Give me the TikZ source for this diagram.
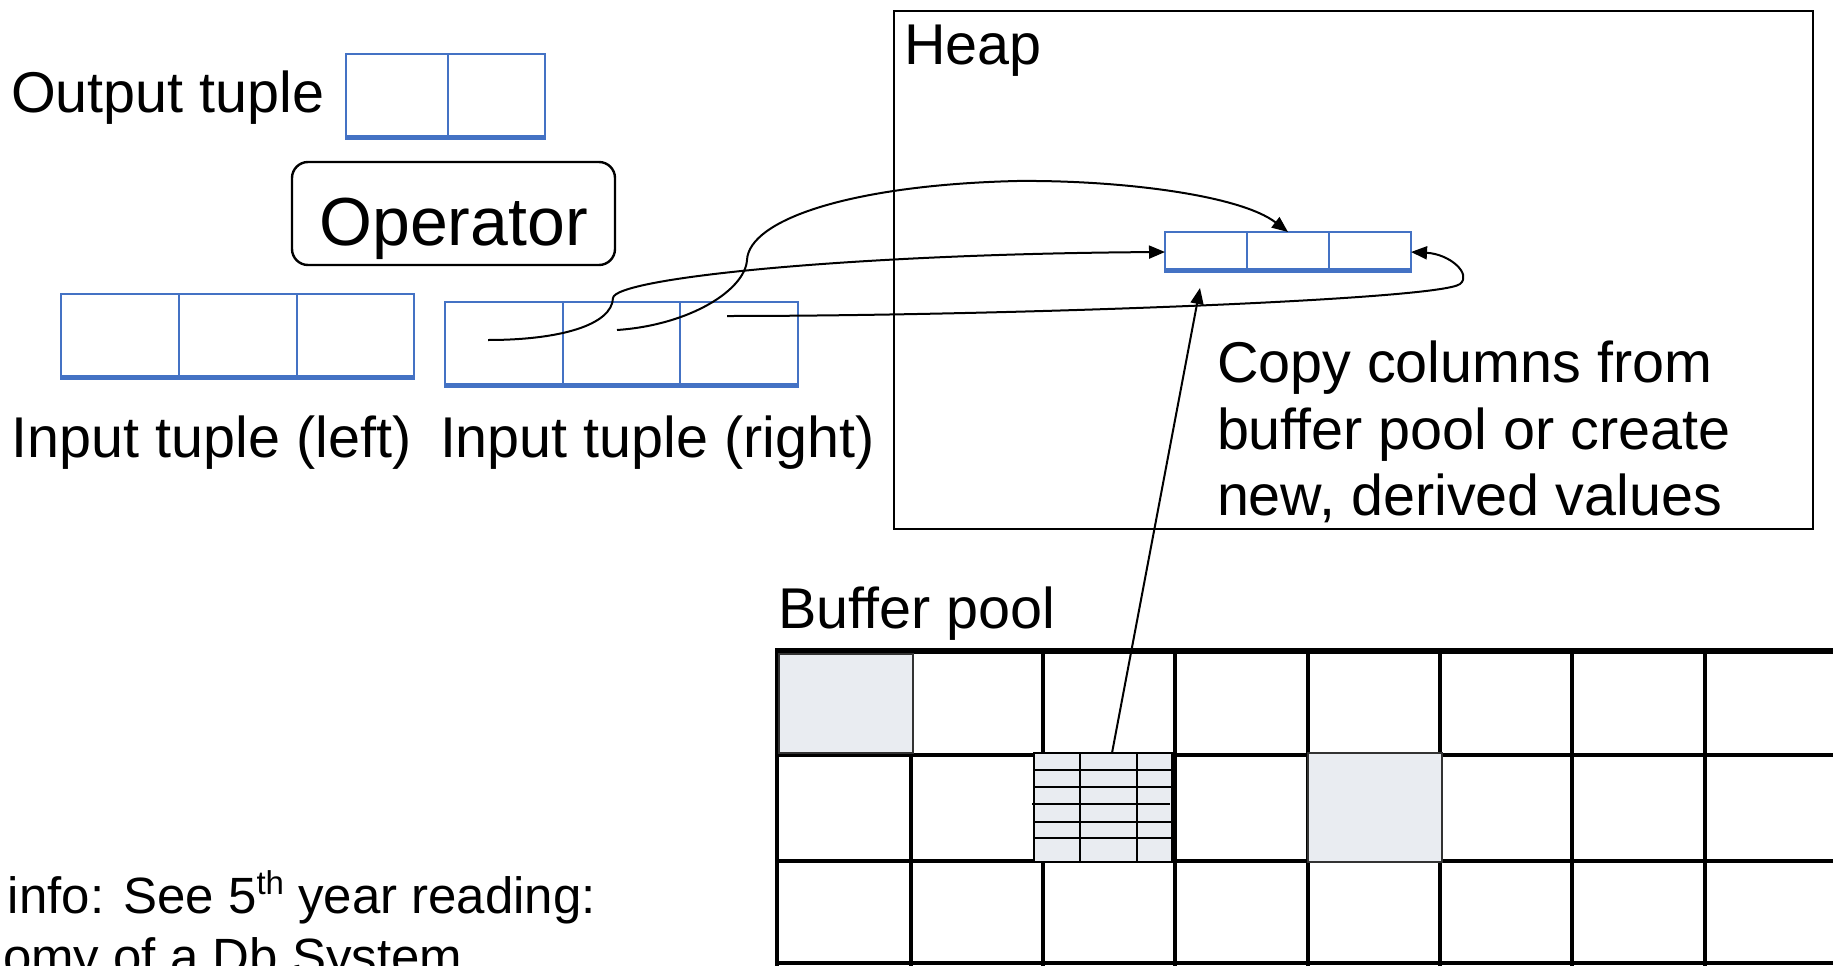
\documentclass[tikz,border=0pt]{standalone}
\usepackage{fontspec}
\setmainfont{Liberation Sans}
\usetikzlibrary{arrows.meta}
\definecolor{tupleblue}{RGB}{68,114,196}
\definecolor{pageshade}{RGB}{233,236,241}

\begin{document}
\begin{tikzpicture}[x=1pt,y=-1pt,
  lbl/.style={anchor=base west, inner sep=0pt, outer sep=0pt,
              font=\fontsize{57.5}{69}\selectfont},
  small/.style={anchor=base west, inner sep=0pt, outer sep=0pt,
              font=\fontsize{51}{61}\selectfont},
  cell/.style={draw=tupleblue, line width=2.5pt, inner sep=0pt, outer sep=0pt},
  tuplebar/.style={draw=tupleblue, line width=5.5pt},
  opbox/.style={draw, line width=2.4pt, rounded corners=16pt, inner sep=0pt,
                minimum width=323pt, minimum height=103pt,
                font=\fontsize{68}{80}\selectfont, text height=63pt, text depth=0pt},
  link/.style={draw, line width=2pt, -{Triangle[length=16pt,width=13pt]}},
  gridthin/.style={draw, line width=3.2pt},
  shadecell/.style={fill=pageshade, draw=black!80, line width=1.4pt},
]
\useasboundingbox (0,0) rectangle (1833,966);
\fill[white] (0,0) rectangle (1833,966);

% ---------- output tuple ----------
\node[lbl] (outlbl) at (11,112) {Output tuple};
\node[cell, minimum width=102pt, minimum height=85pt] (ot1) at (397,96.5) {};
\node[cell, minimum width=97pt,  minimum height=85pt] (ot2) at (496.5,96.5) {};
\draw[tuplebar] ([yshift=1.5pt]ot1.south west) -- ([yshift=1.5pt]ot2.south east);

% ---------- operator ----------
\node[opbox] (op) at (453.5,213.5) {Operator};

% ---------- input tuple (left) ----------
\node[cell, minimum width=118pt, minimum height=85pt] (lt1) at (120,336.5) {};
\node[cell, minimum width=118pt, minimum height=85pt] (lt2) at (238,336.5) {};
\node[cell, minimum width=117pt, minimum height=85pt] (lt3) at (355.5,336.5) {};
\draw[tuplebar] ([yshift=1.5pt]lt1.south west) -- ([yshift=1.5pt]lt3.south east);
\node[lbl] (ltlbl) at (12,457) {Input tuple (left)};

% ---------- input tuple (right) ----------
\node[cell, minimum width=118pt, minimum height=85pt] (rt1) at (504,344.5) {};
\node[cell, minimum width=117pt, minimum height=85pt] (rt2) at (621.5,344.5) {};
\node[cell, minimum width=118pt, minimum height=85pt] (rt3) at (739,344.5) {};
\draw[tuplebar] ([yshift=1.5pt]rt1.south west) -- ([yshift=1.5pt]rt3.south east);
\node[lbl] (rtlbl) at (440,457) {Input tuple (right)};

% ---------- heap ----------
\node[draw, line width=2pt, inner sep=0pt, outer sep=0pt,
      minimum width=919pt, minimum height=518pt] (heap) at (1353.5,270) {};
\node[lbl] (heaplbl) at (904,65) {Heap};
\node[cell, minimum width=82pt, minimum height=40pt] (ht1) at (1206,252) {};
\node[cell, minimum width=82pt, minimum height=40pt] (ht2) at (1288,252) {};
\node[cell, minimum width=82pt, minimum height=40pt] (ht3) at (1370,252) {};
\draw[tuplebar] ([yshift=1.5pt]ht1.south west) -- ([yshift=1.5pt]ht3.south east);
\node[lbl] (copy1) at (1217,382) {Copy columns from};
\node[lbl] (copy2) at (1217,449) {buffer pool or create};
\node[lbl] (copy3) at (1217,515) {new, derived values};

% ---------- buffer pool ----------
\node[lbl] (bplbl) at (778,628) {Buffer pool};
\foreach \y in {755,861,963} \draw[gridthin] (777,\y) -- (1845,\y);
\foreach \x in {911,1043,1175,1308,1440,1572,1705} \draw[gridthin] (\x,651) -- (\x,966);
\draw[line width=4.8pt] (777,649) -- (777,970);
\draw[line width=6.5pt] (775,651) -- (1845,651);
\draw[shadecell] (779,654) rectangle (913,753);
\draw[shadecell] (1308,753) rectangle (1442,862);

% page with its slots
\node[draw, fill=pageshade, line width=2.4pt, inner sep=0pt, outer sep=0pt,
      minimum width=138pt, minimum height=109pt] (page) at (1103,807.5) {};
\foreach \x in {1080,1137} \draw[line width=2.2pt] (\x,753) -- (\x,862);
\foreach \y in {770,787,822,838} \draw[line width=2.2pt] (1034,\y) -- (1172,\y);
\draw[line width=2.2pt] (1032,804) -- (1170,804);

% ---------- connectors ----------
\coordinate (srcA) at (488,340);
\coordinate (srcB) at (617,330);
\coordinate (srcC) at (727,316);
\coordinate (pagetop) at (1112,753);
\coordinate (slot) at (1200,288);

\draw[link] (srcA) .. controls (560,340) and (612,325) .. (613,298)
                   .. controls (615,278) and (850,254) .. (ht1.west);
\draw[link] (srcB) .. controls (690,325) and (745,290) .. (747,260)
                   .. controls (749,220) and (850,185) .. (1017,181)
                   .. controls (1120,180) and (1240,195) .. (ht2.north);
\draw[link] (srcC) .. controls (1000,316) and (1440,300) .. (1460,284)
                   .. controls (1472,274) and (1450,254) .. (ht3.east);
\draw[link] (pagetop) -- (slot);

% ---------- note ----------
\node[small] (note1) at (8,913) {info: See 5\raisebox{0.36em}{\fontsize{33}{33}\selectfont th} year reading:};
\node[small] (note2) at (3,974) {omy of a Db System};
\end{tikzpicture}
\end{document}
